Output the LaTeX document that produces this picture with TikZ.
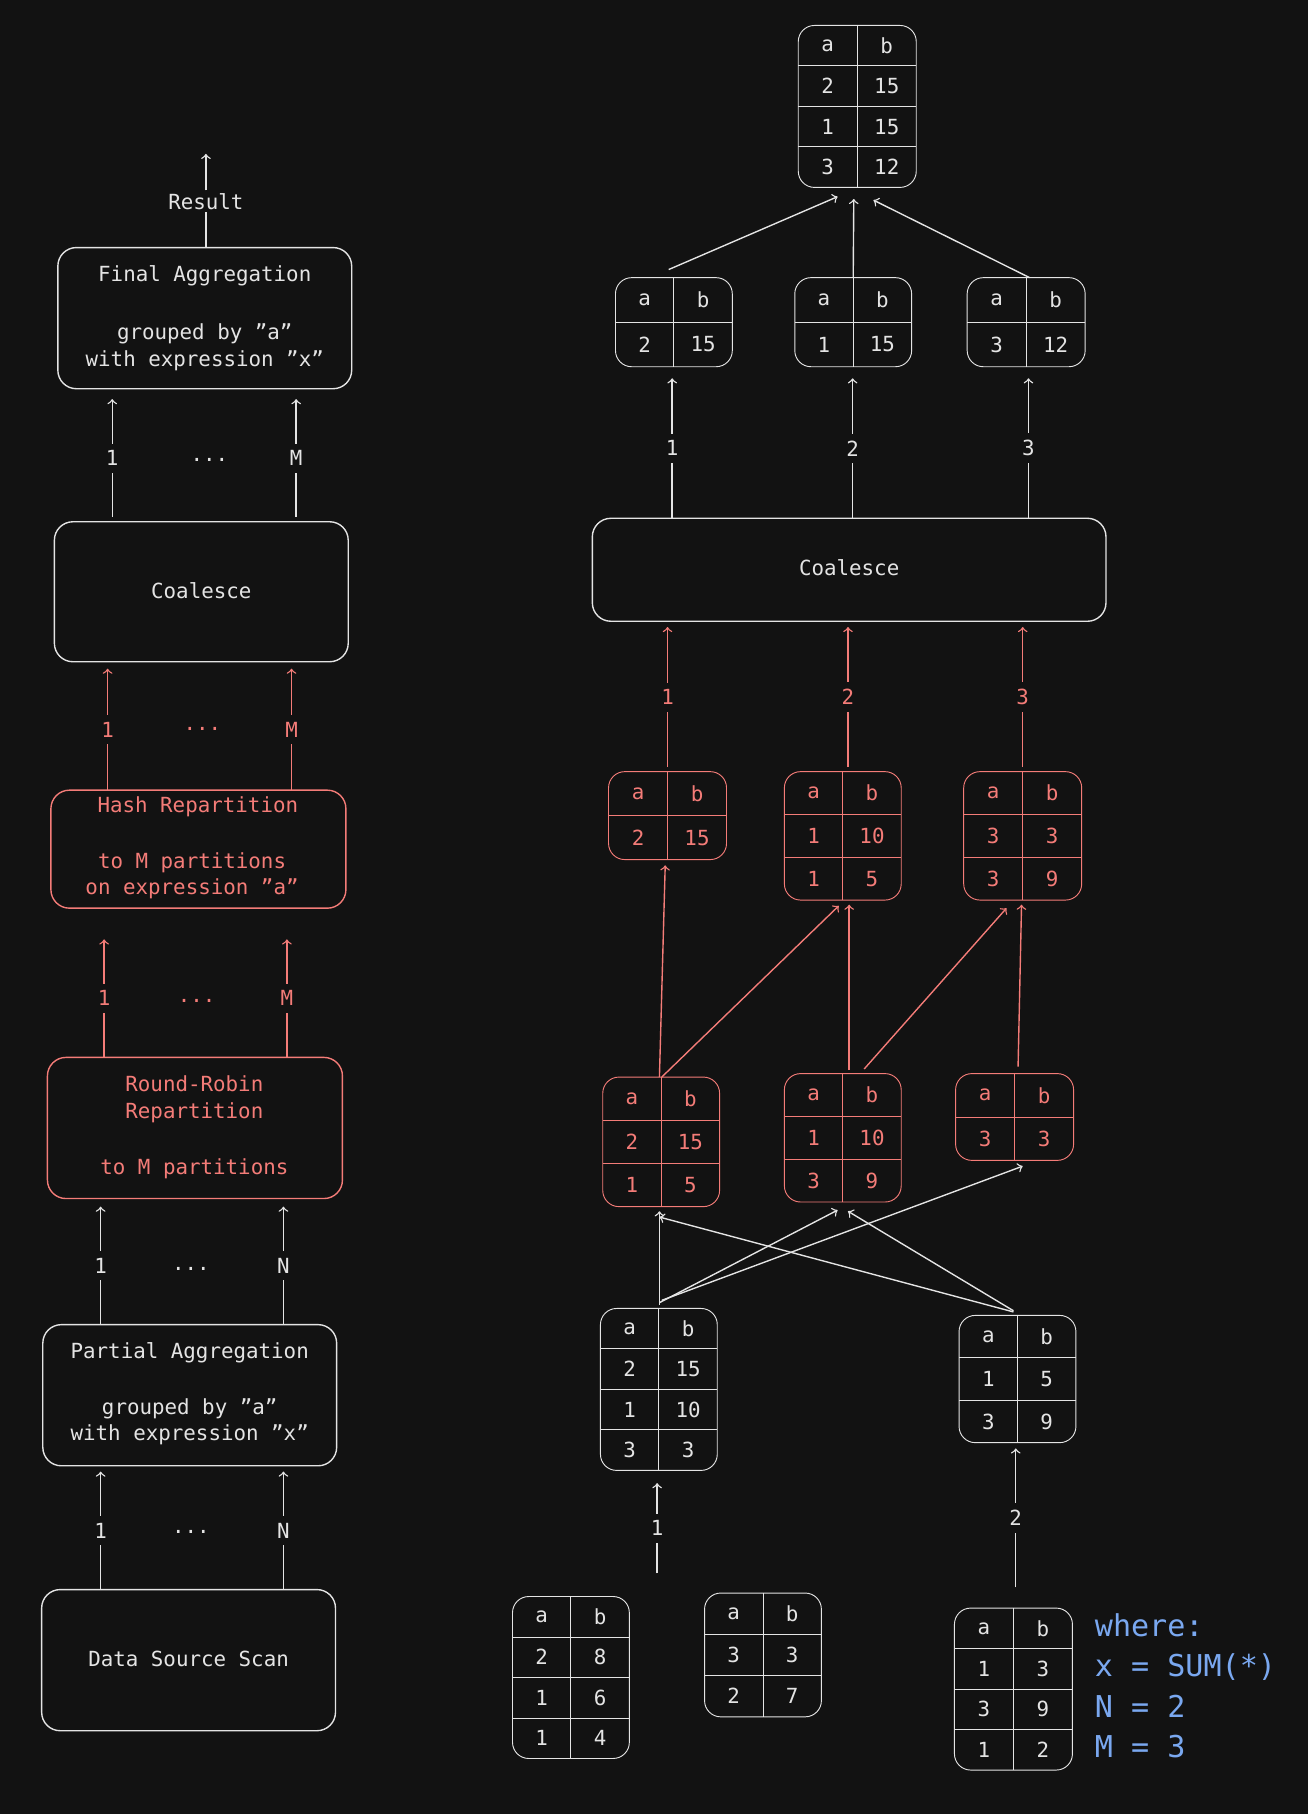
\documentclass[tikz,border=0pt]{standalone}
\usepackage{fontspec}
\setmainfont{DejaVu Sans Mono}[Ligatures=ResetAll]
\begin{document}
\definecolor{bg}{HTML}{121212}
\definecolor{wl}{HTML}{E4E4E4}
\definecolor{rd}{HTML}{F47C78}
\definecolor{bl}{HTML}{7AA8F0}
\newcommand\qq{\symbol{34}}
\newcommand\tbl[8]{%
\draw[#7,rounded corners=7] (#2,#3) rectangle (#4,#5);
\draw[#7] ({(#2+#4)/2},#3) -- ({(#2+#4)/2},#5);
\foreach \i in {1,...,#6}{\draw[#7] (#2,{#3+\i*(#5-#3)/(#6+1)}) -- (#4,{#3+\i*(#5-#3)/(#6+1)});}
\foreach [count=\k from 0] \p/\q in {#8}{%
\node[txt,text=#7] at ({#2+(#4-#2)/4},{#3+(\k+0.5)*(#5-#3)/(#6+1)}) {\p};
\node[txt,text=#7] at ({#2+3*(#4-#2)/4},{#3+(\k+0.5)*(#5-#3)/(#6+1)}) {\q};}
\coordinate (#1) at ({(#2+#4)/2},#3);}
\begin{tikzpicture}[x=0.5pt,y=-0.5pt,
 txt/.style={font=\fontsize{9}{11.5}\selectfont,inner sep=1pt},
 box/.style={draw=#1,rounded corners=8,line width=0.6pt},
 ar/.style={draw=#1,->,line width=0.6pt},
 lab/.style={txt,fill=bg,text=#1,inner sep=3pt}]
\fill[bg] (0,0) rectangle (1131,1568);
\useasboundingbox (0,0) rectangle (1131,1568);
% left column
\draw[box=wl] (50,214) rectangle (304,336);
\node[txt,text=wl] at (177,238) {Final Aggregation};
\node[txt,text=wl,align=center] at (177,300) {grouped by \qq a\qq\\with expression \qq x\qq};
\node[txt,text=wl] (res) at (178,174) {Result};
\draw[wl,line width=0.6pt] (178,214) -- (res.south);
\coordinate (rt) at (178,133);
\draw[ar=wl] (res.north) -- (rt);
\foreach \x/\l in {97/1,256/M}{\draw[ar=wl] (\x,447) -- (\x,345) node[lab=wl,pos=0.5] {\l};}
\node[txt,text=wl] at (181,398) {...};
\draw[box=wl] (47,451) rectangle (301,572);
\node[txt,text=wl] at (174,511) {Coalesce};
\foreach \x/\l in {93/1,252/M}{\draw[ar=rd] (\x,683) -- (\x,578) node[lab=rd,pos=0.5] {\l};}
\node[txt,text=rd] at (175,630) {...};
\draw[box=rd] (44,683) rectangle (299,785);
\node[txt,text=rd] at (171,697) {Hash Repartition};
\node[txt,text=rd,align=center] at (166,757) {to M partitions\\on expression \qq a\qq};
\foreach \x/\l in {90/1,248/M}{\draw[ar=rd] (\x,914) -- (\x,812) node[lab=rd,pos=0.5] {\l};}
\node[txt,text=rd] at (170,865) {...};
\draw[box=rd] (41,914) rectangle (296,1036);
\node[txt,text=rd,align=center] at (168,950) {Round-Robin\\Repartition};
\node[txt,text=rd] at (168,1010) {to M partitions};
\foreach \x/\l in {87/1,245/N}{\draw[ar=wl] (\x,1145) -- (\x,1043) node[lab=wl,pos=0.5] {\l};}
\node[txt,text=wl] at (165,1097) {...};
\draw[box=wl] (37,1145) rectangle (291,1267);
\node[txt,text=wl] at (164,1169) {Partial Aggregation};
\node[txt,text=wl,align=center] at (164,1229) {grouped by \qq a\qq\\with expression \qq x\qq};
\foreach \x/\l in {87/1,245/N}{\draw[ar=wl] (\x,1374) -- (\x,1272) node[lab=wl,pos=0.5] {\l};}
\node[txt,text=wl] at (165,1324) {...};
\draw[box=wl] (36,1374) rectangle (290,1496);
\node[txt,text=wl] at (163,1434) {Data Source Scan};
% right column tables
\tbl{top}{690}{22}{792}{162}{3}{wl}{a/b,2/15,1/15,3/12}
\tbl{T1}{532}{240}{633}{317}{1}{wl}{a/b,2/15}
\tbl{T2}{687}{240}{788}{317}{1}{wl}{a/b,1/15}
\tbl{T3}{836}{240}{938}{317}{1}{wl}{a/b,3/12}
\draw[box=wl] (512,448) rectangle (956,537);
\node[txt,text=wl] at (734,491) {Coalesce};
\tbl{R1}{526}{667}{628}{743}{1}{rd}{a/b,2/15}
\tbl{R2}{678}{667}{779}{778}{2}{rd}{a/b,1/10,1/5}
\tbl{R3}{833}{667}{935}{778}{2}{rd}{a/b,3/3,3/9}
\tbl{S1}{521}{931}{622}{1043}{2}{rd}{a/b,2/15,1/5}
\tbl{S2}{678}{928}{779}{1039}{2}{rd}{a/b,1/10,3/9}
\tbl{S3}{826}{928}{928}{1003}{1}{rd}{a/b,3/3}
\tbl{P1}{519}{1131}{620}{1271}{3}{wl}{a/b,2/15,1/10,3/3}
\tbl{P2}{829}{1137}{930}{1247}{2}{wl}{a/b,1/5,3/9}
\tbl{Q1}{443}{1380}{544}{1520}{3}{wl}{a/b,2/8,1/6,1/4}
\tbl{Q2}{609}{1377}{710}{1484}{2}{wl}{a/b,3/3,2/7}
\tbl{Q3}{825}{1390}{927}{1530}{3}{wl}{a/b,1/3,3/9,1/2}
% right connectors
\coordinate (a1) at (578,233); \coordinate (a1e) at (724,170);
\draw[ar=wl] (a1) -- (a1e);
\draw[ar=wl] (T2) -- (738,172);
\coordinate (a3) at (890,240); \draw[ar=wl] (a3) -- (755,173);
\foreach \x/\l in {581/1,737/2,889/3}{\draw[ar=wl] (\x,448) -- (\x,327) node[lab=wl,pos=0.5] {\l};}
\foreach \x/\l in {577/1,733/2,884/3}{\draw[ar=rd] (\x,663) -- (\x,542) node[lab=rd,pos=0.5] {\l};}
\draw[ar=rd] (570,931) -- (575,748);
\draw[ar=rd] (572,931) -- (725,783);
\draw[ar=rd] (734,925) -- (734,782);
\draw[ar=rd] (747,924) -- (870,785);
\draw[ar=rd] (880,922) -- (883,782);
\draw[ar=wl] (570,1128) -- (570,1047);
\draw[ar=wl] (570,1126) -- (724,1046);
\draw[ar=wl] (572,1124) -- (884,1008);
\draw[ar=wl] (876,1134) -- (570,1052);
\draw[ar=wl] (876,1133) -- (733,1047);
\draw[ar=wl] (568,1360) -- (568,1282) node[lab=wl,pos=0.5] {1};
\draw[ar=wl] (878,1372) -- (878,1252) node[lab=wl,pos=0.5] {2};
\node[anchor=west,align=left,text=bl,font=\fontsize{13}{17.5}\selectfont,inner sep=0] at (946,1457) {where:\\x = SUM(*)\\N = 2\\M = 3};
\end{tikzpicture}
\end{document}
